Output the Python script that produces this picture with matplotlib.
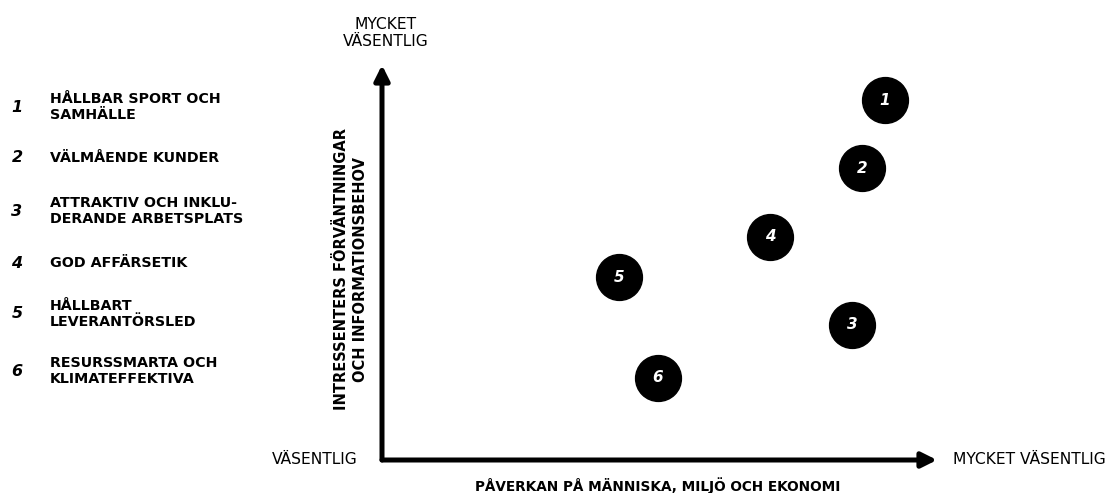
import matplotlib.pyplot as plt

# Materiality topics (numbered list on the left)
topic_nums = ["1", "2", "3", "4", "5", "6"]
topic_names = [
    "HÅLLBAR SPORT OCH\nSAMHÄLLE",
    "VÄLMÅENDE KUNDER",
    "ATTRAKTIV OCH INKLU-\nDERANDE ARBETSPLATS",
    "GOD AFFÄRSETIK",
    "HÅLLBART\nLEVERANTÖRSLED",
    "RESURSSMARTA OCH\nKLIMATEFFEKTIVA",
]

# Position of each topic in the matrix (0 = väsentlig, 10 = mycket väsentlig)
impact = [9.06, 8.65, 8.47, 6.99, 4.27, 4.97]        # påverkan (x)
stakeholder = [9.11, 7.39, 3.42, 5.65, 4.63, 2.08]   # intressenter (y)

x_title = "PÅVERKAN PÅ MÄNNISKA, MILJÖ OCH EKONOMI"
y_title = "INTRESSENTERS FÖRVÄNTNINGAR\nOCH INFORMATIONSBEHOV"
low_label = "VÄSENTLIG"
high_label = "MYCKET VÄSENTLIG"

W, H = 1111, 493
fig = plt.figure(figsize=(W / 100, H / 100), dpi=100)
plt.rcParams['font.family'] = ['DejaVu Sans']

# full-figure layer in pixel units for the text layout
lay = fig.add_axes([0, 0, 1, 1])
lay.set_xlim(0, W)
lay.set_ylim(H, 0)
lay.axis('off')

# matrix axes: origin at (382, 460), arrows to x=937 and y=65
x0, y0, x1, y1 = 382, 460, 937, 65
ax = fig.add_axes([x0 / W, (H - y0) / H, (x1 - x0) / W, (y0 - y1) / H])
ax.set_xlim(0, 10)
ax.set_ylim(0, 10)
ax.axis('off')

arrow = dict(arrowstyle='-|>,head_length=0.9,head_width=0.45', lw=3.6,
             color='black', shrinkA=0, shrinkB=0)
ax.annotate('', xy=(1, 0), xytext=(0, 0), xycoords='axes fraction', arrowprops=arrow)
ax.annotate('', xy=(0, 1), xytext=(0, 0), xycoords='axes fraction', arrowprops=arrow)

ax.scatter(impact, stakeholder, s=1090, color='black', zorder=3, clip_on=False)
for n, x, y in zip(topic_nums, impact, stakeholder):
    ax.text(x, y, n, color='white', fontsize=11, fontweight='bold', style='italic',
            ha='center', va='center', zorder=4)

# left-hand list
list_y = [107, 158, 211, 263, 314, 371]
for n, name, y in zip(topic_nums, topic_names, list_y):
    lay.text(17, y, n, fontsize=11.5, fontweight='bold', style='italic',
             ha='center', va='center')
    lay.text(50, y, name, fontsize=10.3, fontweight='bold', ha='left', va='center',
             linespacing=1.2)

# axis labels
lay.text(386, 33, "MYCKET\nVÄSENTLIG", fontsize=11.2, ha='center', va='center',
         linespacing=1.15)
lay.text(358, 459, low_label, fontsize=11.2, ha='right', va='center')
lay.text(953, 459, high_label, fontsize=11.2, ha='left', va='center')
lay.text(658, 486, x_title, fontsize=9.8, fontweight='bold', ha='center', va='center')
lay.text(351, 269, y_title, fontsize=10.5, fontweight='bold', rotation=90,
         ha='center', va='center', multialignment='center', linespacing=1.3)

fig.savefig('out.png', dpi=100)
